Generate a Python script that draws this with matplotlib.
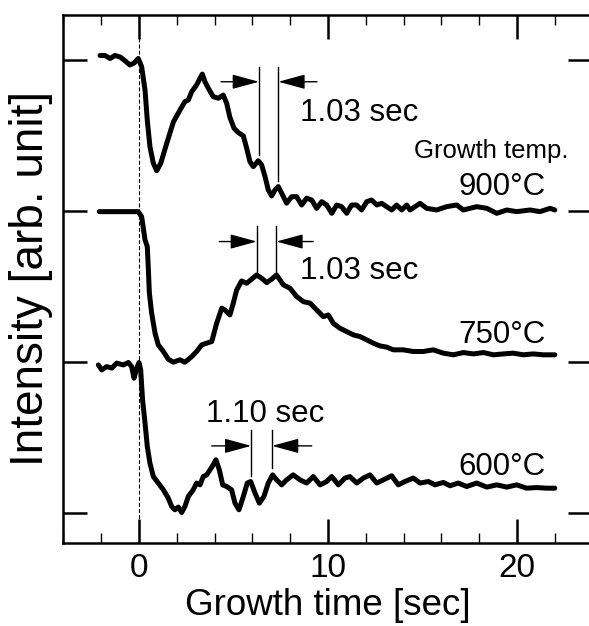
import matplotlib
matplotlib.use("Agg")
import matplotlib.pyplot as plt
from matplotlib.ticker import MultipleLocator, NullFormatter

plt.rcParams['font.family'] = ['Liberation Sans', 'DejaVu Sans']

# RHEED intensity traces, growth time [sec] vs. intensity [arb. unit]
t900 = [-2.06, -1.8, -1.53, -1.27, -1.0, -0.74, -0.48, -0.26, -0.04, 0.14, 0.32, 0.44,
        0.58, 0.76, 0.94, 1.15, 1.47, 1.82, 2.17, 2.43, 2.61, 2.79, 3.05, 3.23, 3.35,
        3.49, 3.67, 3.93, 4.2, 4.46, 4.64, 4.81, 5.03, 5.25, 5.52, 5.7, 5.87, 6.05,
        6.31, 6.49, 6.67, 6.84, 7.02, 7.2, 7.37, 7.55, 7.81, 8.08, 8.34, 8.61, 8.87,
        9.14, 9.4, 9.67, 9.93, 10.2, 10.46, 10.72, 10.99, 11.25, 11.51, 11.78, 12.05,
        12.31, 12.58, 12.84, 13.1, 13.37, 13.63, 13.9, 14.16, 14.34, 14.87, 15.22,
        15.75, 16.28, 16.81, 17.16, 17.87, 18.4, 18.93, 19.46, 19.98, 20.69, 21.22,
        21.75, 22.0]
y900 = [3.03, 3.03, 3.01, 3.03, 3.02, 2.995, 2.967, 2.98, 3.01, 2.956, 2.80, 2.60,
        2.426, 2.316, 2.267, 2.316, 2.449, 2.59, 2.669, 2.724, 2.735, 2.79, 2.835,
        2.879, 2.907, 2.856, 2.813, 2.757, 2.747, 2.768, 2.713, 2.62, 2.548, 2.52,
        2.498, 2.415, 2.327, 2.294, 2.333, 2.305, 2.228, 2.14, 2.1, 2.14, 2.162,
        2.118, 2.052, 2.095, 2.095, 2.04, 2.085, 2.073, 2.018, 2.062, 2.04, 1.985,
        2.04, 2.029, 1.985, 2.04, 2.04, 2.007, 2.062, 2.073, 2.04, 2.051, 2.029,
        2.007, 2.04, 2.007, 2.04, 2.007, 2.051, 2.018, 2.007, 2.029, 2.04, 2.007,
        2.029, 2.018, 1.985, 2.007, 1.996, 2.007, 1.996, 2.018, 2.007]

t750 = [-2.1, -0.04, 0.14, 0.32, 0.44, 0.49, 0.55, 0.67, 0.85, 1.02, 1.29, 1.55,
        1.82, 2.17, 2.43, 2.79, 3.05, 3.32, 3.58, 3.85, 4.11, 4.38, 4.55, 4.81, 4.99,
        5.17, 5.43, 5.7, 5.96, 6.23, 6.49, 6.76, 7.02, 7.28, 7.64, 7.99, 8.34, 8.7,
        9.05, 9.4, 9.75, 10.02, 10.28, 10.63, 10.99, 11.34, 11.69, 12.05, 12.4,
        12.75, 13.1, 13.46, 13.98, 14.51, 15.04, 15.57, 16.1, 16.63, 17.16, 17.69,
        18.22, 18.75, 19.28, 19.8, 20.33, 20.86, 21.39, 22.0]
y750 = [1.996, 1.996, 1.963, 1.809, 1.764, 1.632, 1.456, 1.324, 1.191, 1.114, 1.07,
        1.019, 0.999, 1.015, 0.999, 1.036, 1.07, 1.114, 1.125, 1.136, 1.257, 1.357,
        1.345, 1.312, 1.39, 1.478, 1.537, 1.522, 1.549, 1.577, 1.555, 1.526, 1.549,
        1.577, 1.511, 1.489, 1.434, 1.4, 1.39, 1.345, 1.301, 1.312, 1.257, 1.224,
        1.202, 1.18, 1.169, 1.147, 1.125, 1.107, 1.099, 1.081, 1.081, 1.07, 1.07,
        1.081, 1.059, 1.048, 1.063, 1.054, 1.063, 1.048, 1.054, 1.059, 1.048, 1.054,
        1.048, 1.048]

t600 = [-2.15, -1.97, -1.71, -1.44, -1.18, -0.83, -0.56, -0.39, -0.26, -0.12, 0.0,
        0.09, 0.19, 0.32, 0.44, 0.58, 0.76, 1.02, 1.29, 1.55, 1.73, 1.9, 2.08, 2.26,
        2.43, 2.61, 2.87, 3.05, 3.23, 3.4, 3.58, 3.76, 3.93, 4.07, 4.25, 4.43, 4.64,
        4.9, 5.08, 5.29, 5.52, 5.73, 5.91, 6.14, 6.37, 6.61, 6.84, 7.07, 7.28, 7.55,
        7.81, 8.16, 8.52, 8.87, 9.22, 9.58, 9.93, 10.2, 10.55, 10.9, 11.16, 11.52,
        11.87, 12.22, 12.58, 12.93, 13.37, 13.72, 14.07, 14.51, 14.87, 15.31, 15.66,
        16.1, 16.46, 16.89, 17.34, 17.87, 18.4, 18.93, 19.46, 19.98, 20.51, 21.04,
        21.57, 22.0]
y600 = [0.981, 0.948, 0.97, 0.96, 0.993, 0.981, 0.997, 0.97, 0.893, 0.96, 0.997,
        0.948, 0.75, 0.596, 0.441, 0.331, 0.242, 0.199, 0.154, 0.099, 0.044, 0.022,
        0.04, 0.004, 0.044, 0.11, 0.154, 0.199, 0.187, 0.242, 0.253, 0.287, 0.32,
        0.353, 0.287, 0.187, 0.176, 0.154, 0.066, 0.022, 0.11, 0.199, 0.209, 0.132,
        0.066, 0.11, 0.199, 0.253, 0.22, 0.187, 0.22, 0.253, 0.22, 0.199, 0.242,
        0.187, 0.209, 0.242, 0.187, 0.232, 0.242, 0.199, 0.232, 0.253, 0.199, 0.22,
        0.247, 0.187, 0.209, 0.232, 0.199, 0.209, 0.187, 0.203, 0.181, 0.199, 0.176,
        0.199, 0.172, 0.187, 0.172, 0.187, 0.165, 0.169, 0.165, 0.165]

temp_labels = ['900°C', '750°C', '600°C']
temp_label_y = [2.107, 1.125, 0.249]

# oscillation periods marked on each trace
periods = [1.03, 1.03, 1.10]
period_centers = [6.86, 6.755, 6.49]
marker_top = [2.952, 1.901, 0.551]
marker_bottoms = [(2.371, 2.199), (1.566, 1.599), (0.247, 0.298)]
arrow_y = [2.856, 1.798, 0.445]
arrow_tails = [(4.34, 9.42), (4.25, 9.22), (3.85, 9.14)]
period_text_xy = [(8.52, 2.598), (8.52, 1.549), (3.54, 0.602)]

W, H = 589, 626
x_left, x_right, y_top, y_bottom = 63, 592, 14.7, 543.3
fig = plt.figure(figsize=(W / 100, H / 100), dpi=100)
ax = fig.add_axes([x_left / W, 1 - y_bottom / H, (x_right - x_left) / W,
                   (y_bottom - y_top) / H])

for t, y in [(t900, y900), (t750, y750), (t600, y600)]:
    ax.plot(t, y, color='black', lw=3.6, solid_joinstyle='round', solid_capstyle='round')

ax.axvline(0, color='black', lw=0.8, ls=(0, (3.5, 2)))

for lab, ly in zip(temp_labels, temp_label_y):
    ax.text(21.5, ly, lab, ha='right', va='baseline', fontsize=22.5)
ax.text(22.7, 2.351, 'Growth temp.', ha='right', va='baseline', fontsize=18.5)

for i in range(3):
    x1 = period_centers[i] - periods[i] / 2
    x2 = period_centers[i] + periods[i] / 2
    b1, b2 = marker_bottoms[i]
    ax.plot([x1, x1], [b1, marker_top[i]], color='black', lw=1.0)
    ax.plot([x2, x2], [b2, marker_top[i]], color='black', lw=1.0)
    tl, tr = arrow_tails[i]
    props = dict(arrowstyle='-|>,head_length=1.65,head_width=0.45', color='black',
                 lw=1.0, shrinkA=0, shrinkB=0, mutation_scale=10)
    ax.annotate('', xy=(x1, arrow_y[i]), xytext=(tl, arrow_y[i]), arrowprops=props)
    ax.annotate('', xy=(x2, arrow_y[i]), xytext=(tr, arrow_y[i]), arrowprops=props)
    tx, ty = period_text_xy[i]
    ax.text(tx, ty, f'{periods[i]:.2f} sec', ha='left', va='baseline', fontsize=22.5)

ax.set_xlim(-4.02, (x_right - 139) / 18.9)
ax.set_ylim(-0.2, 3.3)
ax.xaxis.set_major_locator(MultipleLocator(10))
ax.xaxis.set_minor_locator(MultipleLocator(2))
ax.yaxis.set_major_locator(MultipleLocator(1))
ax.yaxis.set_major_formatter(NullFormatter())
ax.tick_params(which='both', direction='in', top=True, right=True, colors='black')
ax.tick_params(which='major', length=17, width=1.8, labelsize=24, pad=7)
ax.tick_params(which='minor', length=7.5, width=1.0)
for s in ax.spines.values():
    s.set_linewidth(1.8)

ax.set_xlabel('Growth time [sec]', fontsize=26.5, labelpad=3)
ax.set_ylabel('Intensity [arb. unit]', fontsize=33, labelpad=0)

fig.savefig('out.png', dpi=100)
